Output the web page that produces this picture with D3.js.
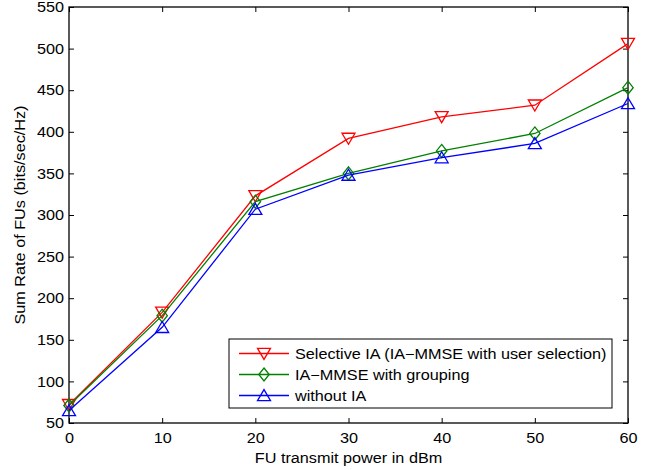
<!DOCTYPE html>
<html><head><meta charset="utf-8">
<script src="https://cdn.jsdelivr.net/npm/d3@7"></script>
<style>body{margin:0;background:#fff}svg{display:block}text{font-family:"Liberation Sans",Arial,Helvetica,sans-serif}</style>
</head><body>
<svg id="c" width="662" height="470"></svg>
<script>
const powers = [0, 10, 20, 30, 40, 50, 60];
const selectiveIA = [72, 183, 323, 392, 418, 432, 506];
const mmseGrouping = [71, 179, 316, 350, 377, 398, 453];
const withoutIA = [65, 165, 307, 348, 369, 386, 434];
const xTicks = [0, 10, 20, 30, 40, 50, 60];
const yTicks = [50, 100, 150, 200, 250, 300, 350, 400, 450, 500, 550];
const seriesNames = ["Selective IA (IA\u2212MMSE with user selection)", "IA\u2212MMSE with grouping", "without IA"];

const series = [
  {name: seriesNames[0], values: selectiveIA, color: "#ff0000", marker: "tdown"},
  {name: seriesNames[1], values: mmseGrouping, color: "#008000", marker: "diamond"},
  {name: seriesNames[2], values: withoutIA, color: "#0000ff", marker: "tup"}
];

const FS = 14.5, SX = 1.12;
const svg = d3.select("#c");
const L = 69, R = 628, T = 7, B = 423;
const x = d3.scaleLinear().domain([0, 60]).range([L, R]);
const y = d3.scaleLinear().domain([50, 550]).range([B, T]);

function markerPath(type, s) {
  if (type === "tdown") return `M${-s},${-s*0.8}L${s},${-s*0.8}L0,${s*0.9}Z`;
  if (type === "tup") return `M${-s},${s*0.8}L${s},${s*0.8}L0,${-s*0.9}Z`;
  return `M0,${-s}L${s*0.8},0L0,${s}L${-s*0.8},0Z`;
}

// axes
const tickLen = 5;
const gx = svg.append("g").attr("transform", `translate(0,${B})`)
  .call(d3.axisBottom(x).tickValues(xTicks).tickSizeInner(-tickLen).tickSizeOuter(0).tickPadding(10));
const gxt = svg.append("g").attr("transform", `translate(0,${T})`)
  .call(d3.axisTop(x).tickValues(xTicks).tickSizeInner(-tickLen).tickSizeOuter(0).tickFormat(""));
const gy = svg.append("g").attr("transform", `translate(${L},0)`)
  .call(d3.axisLeft(y).tickValues(yTicks).tickSizeInner(-tickLen).tickSizeOuter(0).tickPadding(5));
const gyr = svg.append("g").attr("transform", `translate(${R},0)`)
  .call(d3.axisRight(y).tickValues(yTicks).tickSizeInner(-tickLen).tickSizeOuter(0).tickFormat(""));
[gx, gxt, gy, gyr].forEach(g => {
  g.select(".domain").remove();
  g.selectAll("line").attr("stroke", "#000").attr("stroke-width", 1);
  g.selectAll("text").attr("font-size", FS).attr("fill", "#000")
    .attr("font-family", '"Liberation Sans",Arial,sans-serif');
});
gx.selectAll("text").attr("transform", `scale(${SX},1)`);
gy.selectAll("text").attr("x", -5 / SX).attr("transform", `scale(${SX},1)`);
svg.append("rect").attr("x", L).attr("y", T).attr("width", R - L).attr("height", B - T)
  .attr("fill", "none").attr("stroke", "#000").attr("stroke-width", 1.3);

// lines
const line = d3.line().x((d, i) => x(powers[i])).y(d => y(d));
series.forEach(s => {
  svg.append("path").datum(s.values).attr("d", line)
    .attr("fill", "none").attr("stroke", s.color).attr("stroke-width", 1.3);
  svg.selectAll(null).data(s.values).enter().append("path")
    .attr("transform", (d, i) => `translate(${x(powers[i])},${y(d)})`)
    .attr("d", markerPath(s.marker, 6.5))
    .attr("fill", "none").attr("stroke", s.color).attr("stroke-width", 1.3);
});

// axis labels
svg.append("text").attr("transform", `translate(${(L + R) / 2},463) scale(${SX},1)`).attr("text-anchor", "middle")
  .attr("font-size", FS).text("FU transmit power in dBm");
svg.append("text").attr("transform", `translate(25,${(T + B) / 2}) rotate(-90) scale(${SX},1)`)
  .attr("text-anchor", "middle").attr("font-size", FS).text("Sum Rate of FUs (bits/sec/Hz)");

// legend
const lg = svg.append("g");
lg.append("rect").attr("x", 229).attr("y", 339).attr("width", 383).attr("height", 69)
  .attr("fill", "#fff").attr("stroke", "#000").attr("stroke-width", 1);
series.forEach((s, i) => {
  const yy = 353.5 + i * 21;
  lg.append("line").attr("x1", 239).attr("x2", 289).attr("y1", yy).attr("y2", yy)
    .attr("stroke", s.color).attr("stroke-width", 1.3);
  lg.append("path").attr("transform", `translate(264,${yy})`).attr("d", markerPath(s.marker, 6.5))
    .attr("fill", "none").attr("stroke", s.color).attr("stroke-width", 1.3);
  lg.append("text").attr("transform", `translate(295,${yy + 5}) scale(${SX},1)`).attr("font-size", FS).text(s.name);
});
</script>
</body></html>
